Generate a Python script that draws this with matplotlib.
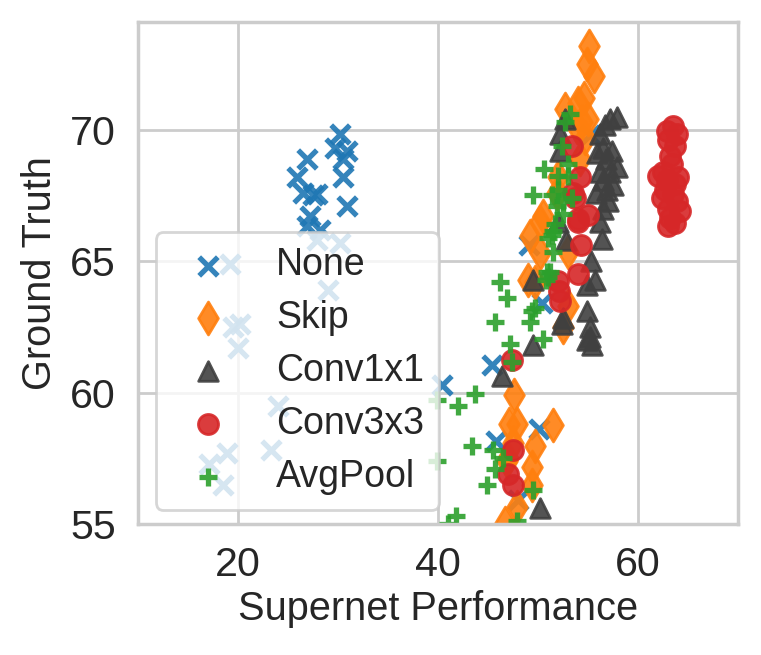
import matplotlib
matplotlib.use('Agg')
import matplotlib.pyplot as plt
import seaborn as sns

sns.set_theme(style='whitegrid')
plt.rcParams['font.family'] = ['Liberation Sans', 'DejaVu Sans']

# ── Data (supernet performance, ground truth) per operation ──
none_x = [30.2, 29.7, 30.9, 30.5, 26.9, 30.5, 25.9, 26.5, 27.5, 27.9, 30.9, 27.2,
          26.9, 28.2, 27.9, 30.2, 19.2, 29.0, 19.5, 20.2, 20.0, 24.0, 18.9, 23.3,
          17.1, 18.5, 40.4, 45.4, 50.4, 49.1, 50.1, 45.8, 48.0, 55.2]
none_y = [69.85, 69.3, 69.2, 68.9, 68.9, 68.2, 68.2, 67.6, 67.5, 67.55, 67.1, 66.7,
          66.35, 66.2, 65.8, 65.7, 64.9, 63.9, 62.5, 62.6, 61.7, 59.5, 57.7, 57.8,
          57.3, 56.5, 60.3, 61.05, 63.4, 65.6, 58.6, 58.15, 55.9, 69.8]

skip_x = [55.1, 54.9, 55.6, 54.6, 54.0, 52.7, 55.0, 54.4, 53.9, 54.7, 54.2, 52.0,
          51.9, 50.5, 50.2, 49.2, 50.2, 53.0, 49.0, 49.7, 53.0, 52.5, 47.6, 47.1,
          47.9, 51.5, 49.7, 49.4, 49.4, 47.5, 47.0, 46.9, 47.9, 46.7]
skip_y = [73.2, 72.5, 72.05, 71.2, 71.0, 70.8, 70.4, 70.3, 70.1, 69.7, 68.9, 68.2,
          67.6, 66.7, 66.5, 65.95, 65.3, 65.35, 64.3, 64.2, 63.3, 62.5, 59.9, 58.8,
          58.8, 58.75, 57.95, 57.15, 56.5, 58.1, 57.5, 57.4, 55.65, 55.05]

conv1_x = [57.9, 57.2, 56.7, 52.2, 52.7, 56.2, 56.5, 57.4, 55.9, 52.2, 57.9, 57.2,
           56.2, 56.5, 57.5, 56.9, 56.5, 56.2, 56.4, 52.0, 52.8, 55.3, 55.7, 54.9,
           49.5, 52.5, 52.4, 54.9, 55.2, 55.2, 55.4, 54.9, 49.5, 46.4, 50.2, 56.8,
           57.0, 55.8]
conv1_y = [70.5, 70.4, 70.2, 69.85, 70.4, 69.85, 69.3, 69.2, 69.1, 69.2, 68.6, 68.4,
           68.4, 68.1, 67.9, 67.7, 67.0, 66.5, 65.85, 66.5, 65.8, 65.0, 64.3, 64.1,
           64.3, 62.85, 62.6, 63.1, 62.5, 62.1, 61.8, 62.0, 61.8, 60.65, 55.6, 68.9,
           67.3, 67.6]

conv3_x = [53.4, 54.2, 53.5, 53.7, 55.0, 54.0, 54.3, 54.0, 52.0, 52.2, 52.1, 54.0,
           47.4, 47.5, 47.0, 47.5,
           63.5, 62.9, 63.9, 63.0, 63.7, 63.2, 63.4, 62.5, 62.0, 64.0, 62.9, 63.7,
           62.7, 63.5, 62.4, 63.9, 63.0, 64.2, 63.2, 63.7, 63.0]
conv3_y = [69.4, 68.2, 67.6, 67.4, 66.75, 66.6, 65.6, 64.5, 64.25, 63.5, 63.85, 66.5,
           61.25, 57.8, 56.9, 56.5,
           70.15, 69.95, 69.85, 69.6, 69.4, 69.0, 68.7, 68.4, 68.25, 68.2, 68.1, 67.95,
           67.7, 67.55, 67.4, 67.3, 67.0, 66.9, 66.65, 66.45, 66.35]

avg_x = [46.2, 46.9, 45.7, 49.4, 49.2, 50.5, 47.2, 47.4, 43.7, 42.0, 39.9, 43.4,
         45.5, 46.5, 45.7, 44.9, 49.5, 41.8, 39.9, 47.9, 41.0, 51.0, 51.2,
         53.2, 52.7, 52.4, 50.6, 53.0, 52.0, 53.0, 49.5, 51.4, 52.0, 52.5, 51.9,
         53.4, 52.5, 51.7, 51.4, 51.5, 51.0, 51.5, 50.9, 50.8, 49.7]
avg_y = [64.2, 63.6, 62.7, 63.1, 62.7, 62.05, 61.85, 61.15, 59.95, 59.5, 59.7, 57.95,
         57.8, 57.5, 57.1, 56.5, 56.3, 55.3, 57.4, 55.1, 55.0, 64.4, 64.6,
         70.6, 70.3, 69.4, 68.5, 68.7, 68.25, 68.25, 67.5, 67.5, 67.7, 67.3, 67.1,
         67.4, 66.8, 66.4, 66.0, 66.15, 65.9, 65.35, 64.6, 64.3, 63.2]

series = [
    ('None', none_x, none_y, 'x', '#1f77b4', 45),
    ('Skip', skip_x, skip_y, 'd', '#ff7f0e', 70),
    ('Conv1x1', conv1_x, conv1_y, '^', '#404040', 50),
    ('Conv3x3', conv3_x, conv3_y, 'o', '#d62728', 52),
    ('AvgPool', avg_x, avg_y, '+', '#2ca02c', 40),
]

fig, ax = plt.subplots(figsize=(761 / 200, 655 / 200), dpi=200)
fig.subplots_adjust(left=0.1813, right=0.9698, bottom=0.2, top=0.9664)

for name, xs, ys, marker, color, size in series:
    if marker in ('x', '+'):
        ax.scatter(xs, ys, marker=marker, color=color, s=size, alpha=0.9,
                   linewidths=1.9, label=name)
    else:
        ax.scatter(xs, ys, marker=marker, color=color, s=size, alpha=0.9,
                   label=name)

ax.set_xlim(10, 70)
ax.set_ylim(55, 74.1)
ax.set_xticks([20, 40, 60])
ax.set_yticks([55, 60, 65, 70])
ax.tick_params(labelsize=14.8, pad=2)
ax.set_xlabel('Supernet Performance', fontsize=14.3, labelpad=2)
ax.set_ylabel('Ground Truth', fontsize=14.3, labelpad=4)

ax.legend(loc='lower left', bbox_to_anchor=(0.03, 0.028), borderaxespad=0,
          fontsize=13.5, labelspacing=0.45, framealpha=0.8)

fig.savefig('out.png', dpi=200)
